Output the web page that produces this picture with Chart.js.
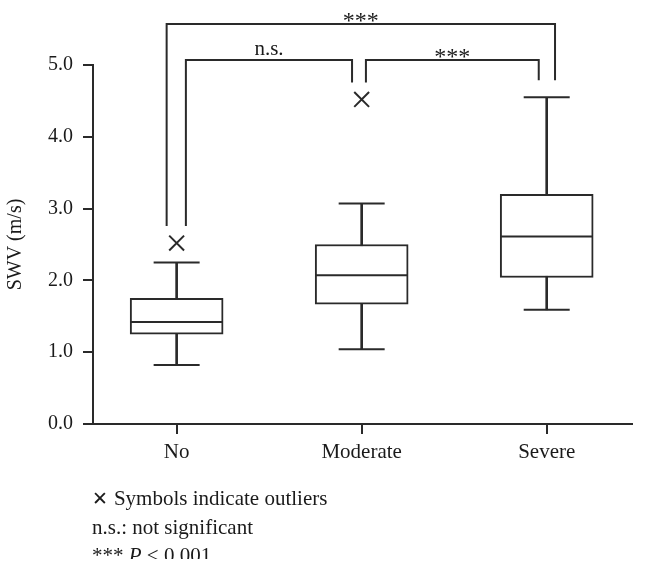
<!DOCTYPE html>
<html>
<head>
<meta charset="utf-8">
<script src="https://cdn.jsdelivr.net/npm/chart.js@4"></script>
<style>
  body { margin: 0; background: #fff; }
  #wrap { position: relative; width: 646px; height: 573px; }
  #notes {
    position: absolute; left: 92px; top: 484px; width: 400px; height: 75px;
    overflow: hidden; font-family: 'Liberation Serif', serif; font-size: 21px;
    line-height: 28.5px; color: #1a1a1a;
  }
  #notes .x { font-family: 'DejaVu Sans', sans-serif; font-size: 19px; margin-right: 6px; }
</style>
</head>
<body>
<div id="wrap">
  <canvas id="chart"></canvas>
  <div id="notes">
    <div><span class="x">✕</span>Symbols indicate outliers</div>
    <div>n.s.: not significant</div>
    <div>***&nbsp;<i>P</i> &lt; 0.001</div>
  </div>
</div>
<script>
// box plot data
const categories = ['No', 'Moderate', 'Severe'];
const whiskerLow = [0.82, 1.04, 1.59];
const q1 = [1.25, 1.67, 2.04];
const median = [1.42, 2.07, 2.61];
const q3 = [1.75, 2.50, 3.20];
const whiskerHigh = [2.25, 3.07, 4.55];
const outliers = [2.52, 4.52, null];
const yTicks = [0, 1, 2, 3, 4, 5];

// significance brackets (category index from / to)
const brackets = [
  { from: 0, to: 2, label: '***' },
  { from: 0, to: 1, label: 'n.s.' },
  { from: 1, to: 2, label: '***' }
];

const ink = '#2a2a2a';
const xPos = categories.map((c, i) => i + 1);

Chart.defaults.font.family = "'Liberation Serif', serif";
Chart.defaults.color = '#1a1a1a';

const bracketPlugin = {
  id: 'brackets',
  afterDatasetsDraw(chart) {
    const { ctx, scales: { x, y } } = chart;
    const groupTop = xPos.map((v, i) => Math.max(whiskerHigh[i], outliers[i] || 0));
    // pixel geometry for each bracket: horizontal level and side offsets
    const geom = [
      { level: 5.57, dl: -0.054, dr: 0.045, textDy: 4 },
      { level: 5.07, dl: 0.05, dr: -0.052, textDy: -5 },
      { level: 5.07, dl: 0.023, dr: -0.043, textDy: 4 }
    ];
    ctx.save();
    ctx.strokeStyle = ink;
    ctx.lineWidth = 2;
    ctx.fillStyle = '#1a1a1a';
    ctx.textAlign = 'center';
    ctx.textBaseline = 'alphabetic';
    brackets.forEach((b, i) => {
      const g = geom[i];
      const xl = x.getPixelForValue(xPos[b.from] + g.dl);
      const xr = x.getPixelForValue(xPos[b.to] + g.dr);
      const yl = y.getPixelForValue(g.level);
      const endL = y.getPixelForValue(groupTop[b.from]) - 17;
      const endR = y.getPixelForValue(groupTop[b.to]) - 17;
      ctx.beginPath();
      ctx.moveTo(xl, endL);
      ctx.lineTo(xl, yl);
      ctx.lineTo(xr, yl);
      ctx.lineTo(xr, endR);
      ctx.stroke();
      ctx.font = b.label === '***' ? "24px 'Liberation Serif', serif" : "21px 'Liberation Serif', serif";
      ctx.fillText(b.label, (xl + xr) / 2, yl + g.textDy);
    });
    ctx.restore();
  }
};

new Chart(document.getElementById('chart'), {
  type: 'bar',
  data: {
    datasets: [
      {
        label: 'whisker',
        data: xPos.map((v, i) => ({ x: v, y: [whiskerLow[i], whiskerHigh[i]] })),
        backgroundColor: ink,
        borderWidth: 0,
        barThickness: 2,
        grouped: false,
        order: 3
      },
      {
        label: 'box',
        data: xPos.map((v, i) => ({ x: v, y: [q1[i], q3[i]] })),
        backgroundColor: '#ffffff',
        borderColor: ink,
        borderWidth: 2,
        borderSkipped: false,
        barThickness: 93,
        grouped: false,
        order: 2
      },
      {
        type: 'scatter',
        label: 'median',
        data: xPos.map((v, i) => ({ x: v, y: median[i] })),
        pointStyle: 'line',
        pointRadius: 46,
        pointBorderWidth: 2,
        pointBorderColor: ink,
        order: 1
      },
      {
        type: 'scatter',
        label: 'caps',
        data: xPos.map((v, i) => ({ x: v, y: whiskerLow[i] }))
          .concat(xPos.map((v, i) => ({ x: v, y: whiskerHigh[i] }))),
        pointStyle: 'line',
        pointRadius: 23,
        pointBorderWidth: 2,
        pointBorderColor: ink,
        order: 1
      },
      {
        type: 'scatter',
        label: 'outliers',
        data: xPos.map((v, i) => ({ x: v, y: outliers[i] })).filter(p => p.y !== null),
        pointStyle: 'crossRot',
        pointRadius: 10.5,
        pointBorderWidth: 2,
        pointBorderColor: ink,
        order: 1
      }
    ]
  },
  options: {
    responsive: true,
    maintainAspectRatio: false,
    animation: false,
    events: [],
    layout: { autoPadding: false, padding: { top: 65, right: 14, bottom: 0, left: 0 } },
    plugins: { legend: { display: false }, tooltip: { enabled: false } },
    scales: {
      x: {
        type: 'linear',
        offset: false,
        min: 0.548,
        max: 3.461,
        afterBuildTicks: s => { s.ticks = xPos.map(v => ({ value: v })); },
        afterFit: s => { s.height = 149; s.paddingLeft = 0; s.paddingRight = 0; },
        ticks: {
          callback: v => categories[v - 1],
          font: { size: 21 },
          padding: 6
        },
        grid: { offset: false, drawOnChartArea: false, color: ink, lineWidth: 2, tickLength: 10 },
        border: { display: true, color: ink, width: 2 }
      },
      y: {
        min: 0,
        max: 5,
        afterBuildTicks: s => { s.ticks = yTicks.map(v => ({ value: v })); },
        afterFit: s => { s.width = 93; },
        ticks: {
          callback: v => v.toFixed(1),
          font: { size: 20 },
          padding: 10
        },
        grid: { drawOnChartArea: false, color: ink, lineWidth: 2, tickLength: 10 },
        border: { display: true, color: ink, width: 2 },
        title: {
          display: true,
          text: 'SWV (m/s)',
          font: { size: 20 },
          padding: { top: 4, bottom: 0 }
        }
      }
    }
  },
  plugins: [bracketPlugin]
});
</script>
</body>
</html>
